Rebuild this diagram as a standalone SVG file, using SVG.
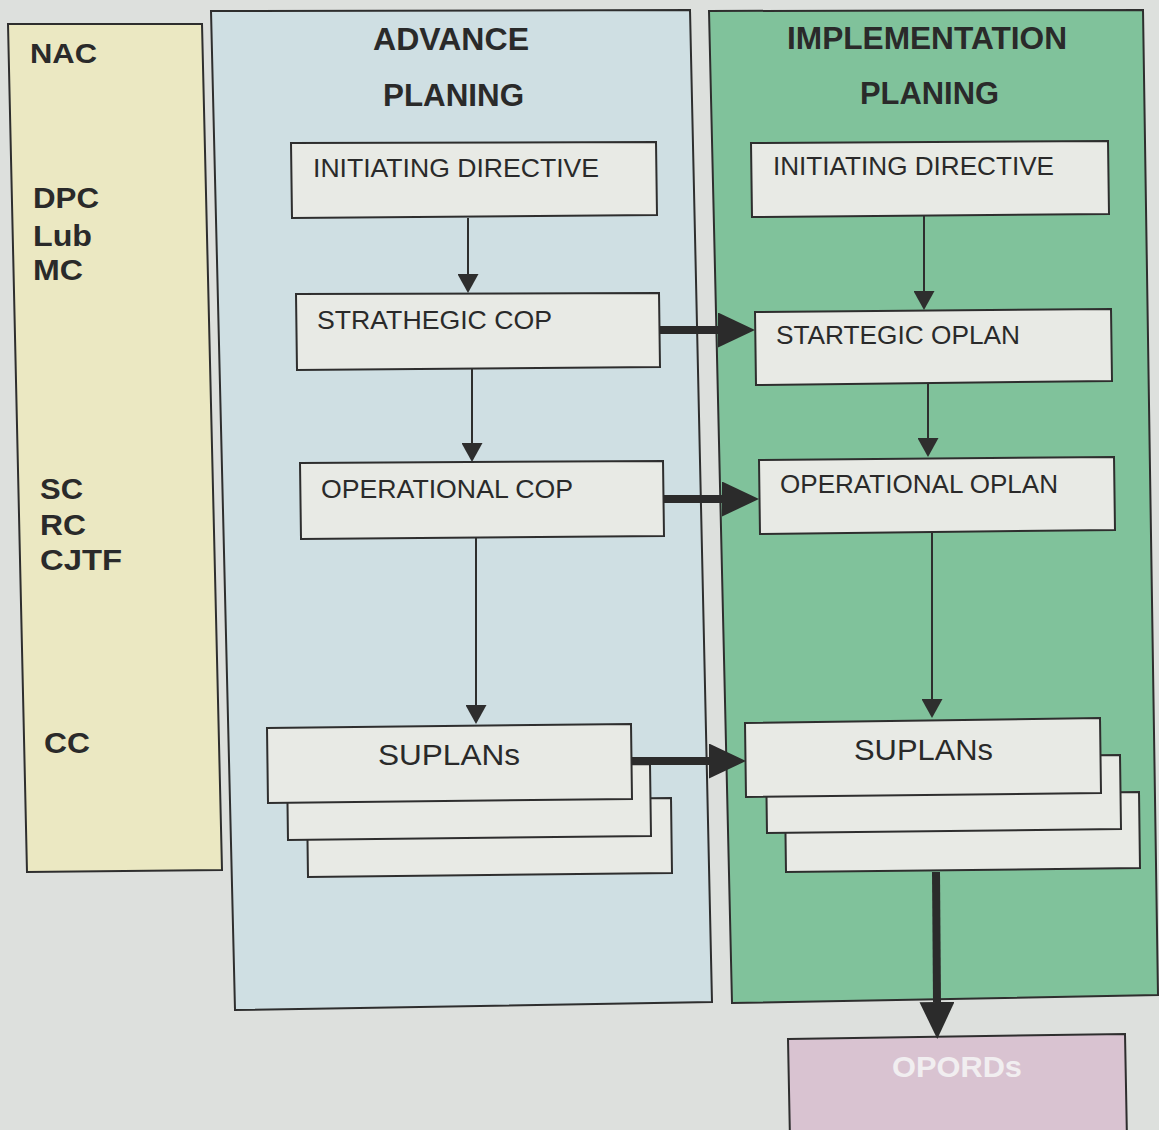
<svg xmlns="http://www.w3.org/2000/svg" width="1159" height="1130" viewBox="0 0 1159 1130">
  <defs>
    <style>
      .panel { stroke: #2e2e2e; stroke-width: 2; }
      .box { fill: #e8eae5; stroke: #2e2e2e; stroke-width: 2; }
      .t { font-family: "Liberation Sans", Arial, sans-serif; fill: #2a2a2a; }
      .b { font-weight: bold; }
      .thin { stroke: #2e2e2e; stroke-width: 2; fill: none; }
      .thick { stroke: #2b2b2b; stroke-width: 8; fill: none; }
    </style>
    <marker id="headThin" markerUnits="userSpaceOnUse" markerWidth="20" markerHeight="21" refX="0" refY="10.5" orient="auto">
      <path d="M0,0 L19,10.5 L0,21 Z" fill="#2e2e2e"/>
    </marker>
    <marker id="headThick" markerUnits="userSpaceOnUse" markerWidth="38" markerHeight="36" refX="0" refY="17.5" orient="auto">
      <path d="M0,0 L37,17.5 L0,35 Z" fill="#2b2b2b"/>
    </marker>
  </defs>

  <!-- page -->
  <rect width="1159" height="1130" fill="#dde0dd"/>

  <!-- phase panels -->
  <g id="panel-authorities">
    <polygon class="panel" points="8,24 202,24 222,870 27,872" fill="#ebe8c2"/>
    <text class="t b" x="30" y="63" font-size="28" textLength="67" lengthAdjust="spacingAndGlyphs">NAC</text>
    <text class="t b" x="33" y="208" font-size="29" textLength="66" lengthAdjust="spacingAndGlyphs">DPC</text>
    <text class="t b" x="33" y="246" font-size="29" textLength="59" lengthAdjust="spacingAndGlyphs">Lub</text>
    <text class="t b" x="33" y="280" font-size="29" textLength="50" lengthAdjust="spacingAndGlyphs">MC</text>
    <text class="t b" x="40" y="499" font-size="29" textLength="43" lengthAdjust="spacingAndGlyphs">SC</text>
    <text class="t b" x="40" y="535" font-size="29" textLength="46" lengthAdjust="spacingAndGlyphs">RC</text>
    <text class="t b" x="40" y="570" font-size="29" textLength="82" lengthAdjust="spacingAndGlyphs">CJTF</text>
    <text class="t b" x="44" y="753" font-size="29" textLength="46" lengthAdjust="spacingAndGlyphs">CC</text>
  </g>

  <g id="panel-advance">
    <polygon class="panel" points="211,11 690,10 712,1002 235,1010" fill="#cfdfe3"/>
    <text class="t b" x="373" y="50" font-size="31" textLength="156" lengthAdjust="spacingAndGlyphs">ADVANCE</text>
    <text class="t b" x="383" y="106" font-size="31" textLength="141" lengthAdjust="spacingAndGlyphs">PLANING</text>
  </g>

  <g id="panel-implementation">
    <polygon class="panel" points="709,11 1143,10 1158,995 732,1003" fill="#80c29b"/>
    <text class="t b" x="787" y="49" font-size="31" textLength="280" lengthAdjust="spacingAndGlyphs">IMPLEMENTATION</text>
    <text class="t b" x="860" y="104" font-size="31" textLength="139" lengthAdjust="spacingAndGlyphs">PLANING</text>
  </g>

  <!-- advance planning nodes -->
  <g id="adv-initiating-directive">
    <polygon class="box" points="291,143 656,142 657,215 292,218"/>
    <text class="t" x="313" y="177" font-size="25" textLength="286" lengthAdjust="spacingAndGlyphs">INITIATING DIRECTIVE</text>
  </g>
  <g id="adv-strategic-cop">
    <polygon class="box" points="296,294 659,293 660,367 297,370"/>
    <text class="t" x="317" y="329" font-size="25" textLength="235" lengthAdjust="spacingAndGlyphs">STRATHEGIC COP</text>
  </g>
  <g id="adv-operational-cop">
    <polygon class="box" points="300,463 663,461 664,536 301,539"/>
    <text class="t" x="321" y="498" font-size="25" textLength="252" lengthAdjust="spacingAndGlyphs">OPERATIONAL COP</text>
  </g>
  <g id="adv-suplans">
    <polygon class="box" points="307,802 671,798 672,873 308,877"/>
    <polygon class="box" points="287,766 650,764 651,836 288,840"/>
    <polygon class="box" points="267,728 631,724 632,799 268,803"/>
    <text class="t" x="378" y="765" font-size="30" textLength="142" lengthAdjust="spacingAndGlyphs">SUPLANs</text>
  </g>

  <!-- implementation planning nodes -->
  <g id="impl-initiating-directive">
    <polygon class="box" points="751,143 1108,141 1109,214 752,217"/>
    <text class="t" x="773" y="175" font-size="25" textLength="281" lengthAdjust="spacingAndGlyphs">INITIATING DIRECTIVE</text>
  </g>
  <g id="impl-strategic-oplan">
    <polygon class="box" points="755,312 1111,309 1112,381 756,385"/>
    <text class="t" x="776" y="344" font-size="25" textLength="244" lengthAdjust="spacingAndGlyphs">STARTEGIC OPLAN</text>
  </g>
  <g id="impl-operational-oplan">
    <polygon class="box" points="759,460 1114,457 1115,530 760,534"/>
    <text class="t" x="780" y="493" font-size="25" textLength="278" lengthAdjust="spacingAndGlyphs">OPERATIONAL OPLAN</text>
  </g>
  <g id="impl-suplans">
    <polygon class="box" points="785,796 1139,792 1140,868 786,872"/>
    <polygon class="box" points="766,758 1120,755 1121,829 767,833"/>
    <polygon class="box" points="745,723 1100,718 1101,793 746,797"/>
    <text class="t" x="854" y="760" font-size="30" textLength="139" lengthAdjust="spacingAndGlyphs">SUPLANs</text>
  </g>

  <!-- orders output -->
  <g id="opords">
    <polygon points="788,1039 1125,1034 1127,1140 790,1140" fill="#d9c3d1" stroke="#2e2e2e" stroke-width="2"/>
    <text class="t b" x="892" y="1077" font-size="30" textLength="130" lengthAdjust="spacingAndGlyphs" fill="#f1eef0" style="fill:#f1eef0">OPORDs</text>
  </g>

  <!-- connectors -->
  <g id="connectors">
    <line class="thin" x1="468" y1="218" x2="468" y2="274" marker-end="url(#headThin)"/>
    <line class="thin" x1="472" y1="369" x2="472" y2="443" marker-end="url(#headThin)"/>
    <line class="thin" x1="476" y1="538" x2="476" y2="705" marker-end="url(#headThin)"/>

    <line class="thin" x1="924" y1="216" x2="924" y2="291" marker-end="url(#headThin)"/>
    <line class="thin" x1="928" y1="383" x2="928" y2="438" marker-end="url(#headThin)"/>
    <line class="thin" x1="932" y1="532" x2="932" y2="699" marker-end="url(#headThin)"/>

    <line class="thick" x1="660" y1="330" x2="718" y2="330" marker-end="url(#headThick)"/>
    <line class="thick" x1="664" y1="499" x2="722" y2="499" marker-end="url(#headThick)"/>
    <line class="thick" x1="632" y1="761" x2="709" y2="761" marker-end="url(#headThick)"/>

    <line class="thick" x1="936" y1="872" x2="937" y2="1002" marker-end="url(#headThick)"/>
  </g>
</svg>
